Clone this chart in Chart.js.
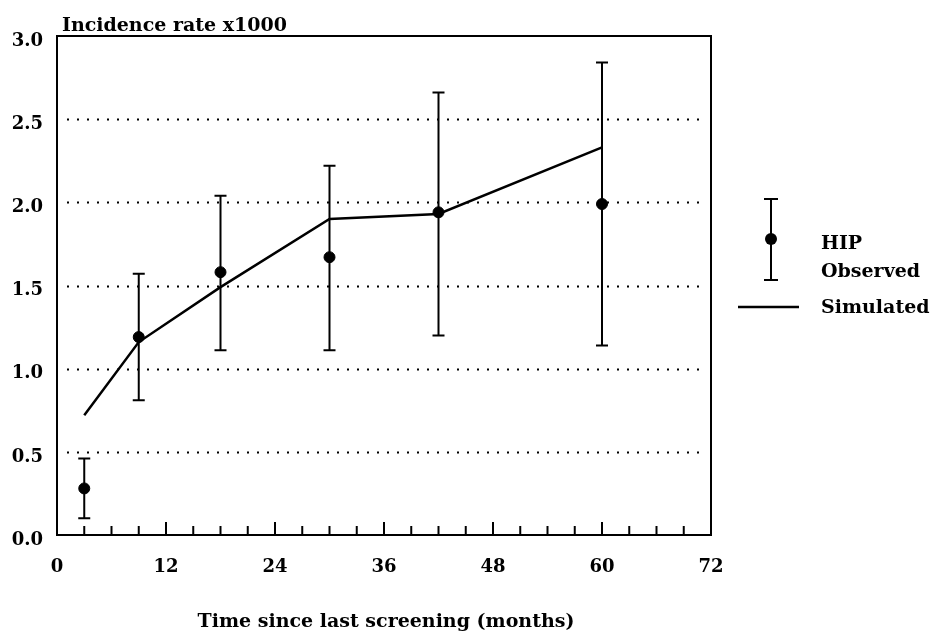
<!DOCTYPE html>
<html>
<head>
  <title>Incidence rate by time since last screening</title>
  <script src="https://cdn.jsdelivr.net/npm/chart.js"></script>
  <style>
    body { margin: 0; background: #fff; }
    #wrap { width: 930px; height: 635px; position: relative; }
  </style>
</head>
<body>
  <div id="wrap"><canvas id="chart"></canvas></div>

  <script>
    // observed HIP data (months since screening, rate x1000, error bar limits)
    const months = [3, 9, 18, 30, 42, 60];
    const observed = [0.28, 1.19, 1.58, 1.67, 1.94, 1.99];
    const obsLower = [0.10, 0.81, 1.11, 1.11, 1.20, 1.14];
    const obsUpper = [0.46, 1.57, 2.04, 2.22, 2.66, 2.84];

    // simulated curve
    const simMonths = [3, 9, 18, 30, 42, 60];
    const simulated = [0.72, 1.16, 1.49, 1.90, 1.93, 2.33];

    const xTicks = [0, 12, 24, 36, 48, 60, 72];
    const yTicks = [0, 0.5, 1.0, 1.5, 2.0, 2.5, 3.0];

    const serif = '"DejaVu Serif", "Liberation Serif", serif';
    const textFont = 'bold 19px ' + serif;

    const extras = {
      id: 'extras',
      beforeDatasetsDraw(chart) {
        const { ctx, chartArea: a, scales: { x, y } } = chart;
        ctx.save();
        // dotted grid lines
        ctx.strokeStyle = '#000';
        ctx.lineWidth = 2;
        ctx.setLineDash([2, 8]);
        yTicks.slice(1, -1).forEach(v => {
          const py = Math.round(y.getPixelForValue(v)) + 0.5;
          ctx.beginPath();
          ctx.moveTo(a.left + 10, py);
          ctx.lineTo(a.right - 6, py);
          ctx.stroke();
        });
        ctx.setLineDash([]);
        // frame
        ctx.lineWidth = 2;
        ctx.strokeRect(a.left, a.top, a.right - a.left, a.bottom - a.top);
        // inward tick marks every 3 months
        for (let m = 3; m < 72; m += 3) {
          const px = x.getPixelForValue(m);
          const len = m % 12 === 0 ? 13 : 9;
          ctx.beginPath();
          ctx.moveTo(px, a.bottom);
          ctx.lineTo(px, a.bottom - len);
          ctx.stroke();
        }
        // error bars
        ctx.lineWidth = 2;
        months.forEach((m, i) => {
          const px = x.getPixelForValue(m);
          const top = y.getPixelForValue(obsUpper[i]);
          const bot = y.getPixelForValue(obsLower[i]);
          ctx.beginPath();
          ctx.moveTo(px, top); ctx.lineTo(px, bot);
          ctx.moveTo(px - 6, top); ctx.lineTo(px + 6, top);
          ctx.moveTo(px - 6, bot); ctx.lineTo(px + 6, bot);
          ctx.stroke();
        });
        ctx.restore();
      },
      afterDraw(chart) {
        const { ctx, chartArea: a } = chart;
        ctx.save();
        ctx.fillStyle = '#000';
        ctx.strokeStyle = '#000';
        ctx.font = textFont;
        ctx.textBaseline = 'alphabetic';
        ctx.textAlign = 'left';
        ctx.fillText('Incidence rate x1000', a.left + 5, 31);
        ctx.textAlign = 'center';
        ctx.fillText('Time since last screening (months)', 386, 627);

        // legend
        ctx.textAlign = 'left';
        ctx.lineWidth = 2;
        ctx.beginPath();
        ctx.moveTo(771, 199); ctx.lineTo(771, 280);
        ctx.moveTo(764, 199); ctx.lineTo(778, 199);
        ctx.moveTo(764, 280); ctx.lineTo(778, 280);
        ctx.stroke();
        ctx.beginPath();
        ctx.arc(771, 239, 6, 0, Math.PI * 2);
        ctx.fill();
        ctx.lineWidth = 2.5;
        ctx.beginPath();
        ctx.moveTo(738, 307); ctx.lineTo(799, 307);
        ctx.stroke();
        ctx.fillText('HIP', 821, 249);
        ctx.fillText('Observed', 821, 277);
        ctx.fillText('Simulated', 821, 313);
        ctx.restore();
      }
    };

    new Chart(document.getElementById('chart'), {
      type: 'scatter',
      data: {
        datasets: [{
          label: 'Simulated',
          type: 'line',
          data: simMonths.map((m, i) => ({ x: m, y: simulated[i] })),
          borderColor: '#000',
          borderWidth: 2.5,
          pointRadius: 0,
          tension: 0,
          fill: false
        }, {
          label: 'HIP Observed',
          data: months.map((m, i) => ({ x: m, y: observed[i] })),
          backgroundColor: '#000',
          borderColor: '#000',
          pointRadius: 5.5,
          pointStyle: 'circle'
        }]
      },
      plugins: [extras],
      options: {
        responsive: true,
        maintainAspectRatio: false,
        animation: false,
        layout: { padding: { top: 36, right: 219, left: 0, bottom: 0 } },
        plugins: { legend: { display: false }, tooltip: { enabled: false } },
        scales: {
          x: {
            type: 'linear',
            min: 0, max: 72,
            afterFit: s => { s.height = 100; },
            afterBuildTicks: s => { s.ticks = xTicks.map(v => ({ value: v })); },
            grid: { display: false },
            border: { display: false },
            ticks: { color: '#000', padding: 14, font: { family: serif, size: 18, weight: 'bold' } }
          },
          y: {
            min: 0, max: 3,
            afterFit: s => { s.width = 57; },
            afterBuildTicks: s => { s.ticks = yTicks.map(v => ({ value: v })); },
            grid: { display: false },
            border: { display: false },
            ticks: {
              color: '#000', padding: 6, labelOffset: 5,
              font: { family: serif, size: 18, weight: 'bold' },
              callback: v => Number(v).toFixed(1)
            }
          }
        }
      }
    });
  </script>
</body>
</html>
